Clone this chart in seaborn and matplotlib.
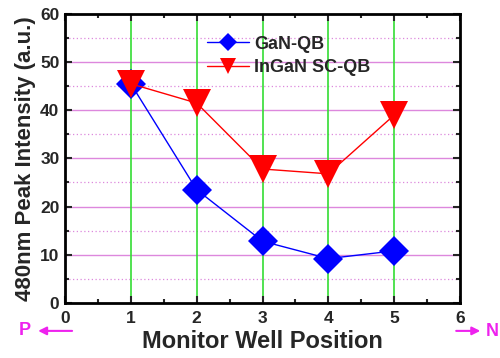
import matplotlib
matplotlib.use("Agg")
import matplotlib.pyplot as plt
import seaborn as sns
import pandas as pd
from matplotlib.ticker import MultipleLocator

positions = [1, 2, 3, 4, 5]
gan_qb = [45.5, 23.5, 12.8, 9.2, 10.8]
ingan_scqb = [45.5, 41.5, 27.8, 26.8, 39.0]
series_names = ["GaN-QB", "InGaN SC-QB"]

sns.set_theme(style="white")
plt.rcParams['font.family'] = ['Liberation Sans', 'DejaVu Sans']
plt.rcParams['font.weight'] = 'bold'

df = pd.DataFrame({
    "pos": positions * 2,
    "val": gan_qb + ingan_scqb,
    "series": [series_names[0]] * 5 + [series_names[1]] * 5,
})

fig = plt.figure(figsize=(5, 3.58), dpi=100)
ax = fig.add_axes([0.13, 0.154, 0.79, 0.807])

# grid
for y in range(10, 60, 10):
    ax.axhline(y, color="#dd88dd", lw=1.0, zorder=0)
for y in range(5, 60, 10):
    ax.axhline(y, color="#dd88dd", lw=0.9, ls=(0, (1, 2)), zorder=0)
for x in positions:
    ax.axvline(x, color="#33dd33", lw=1.2, zorder=0)

sns.lineplot(data=df, x="pos", y="val", hue="series", style="series",
             palette={series_names[0]: "#0000ff", series_names[1]: "#ff0000"},
             markers={series_names[0]: "D", series_names[1]: "v"},
             dashes=False, markersize=15, markeredgewidth=0, lw=1.0, ax=ax, zorder=3)
for line in ax.lines:
    if line.get_marker() == "v":
        line.set_markersize(20)

ax.set_xlim(0, 6)
ax.set_ylim(0, 60)
ax.xaxis.set_major_locator(MultipleLocator(1))
ax.xaxis.set_minor_locator(MultipleLocator(0.5))
ax.yaxis.set_major_locator(MultipleLocator(10))
ax.yaxis.set_minor_locator(MultipleLocator(5))
ax.tick_params(which="both", direction="in", top=True, right=True, bottom=True, left=True,
               width=1.5, labelsize=12.5)
ax.tick_params(axis="x", pad=6)
ax.tick_params(axis="y", pad=4)
ax.tick_params(which="major", length=5)
ax.tick_params(which="minor", length=3)
for lab in ax.get_xticklabels() + ax.get_yticklabels():
    lab.set_fontweight("bold")
for s in ax.spines.values():
    s.set_linewidth(2)
    s.set_color("black")

ax.set_xlabel("Monitor Well Position", fontsize=17, fontweight="bold")
ax.xaxis.set_label_coords(0.5, -0.095)
ax.set_ylabel("480nm Peak Intensity (a.u.)", fontsize=16, fontweight="bold", labelpad=3)

leg = ax.legend(loc="upper left", bbox_to_anchor=(0.36, 0.925), frameon=False,
                fontsize=13, handlelength=2.3, handletextpad=0.3, labelspacing=0.35,
                borderaxespad=0, borderpad=0)
for h in leg.legend_handles:
    if h.get_marker() == "v":
        h.set_markersize(11)
    else:
        h.set_markersize(9)
for t in leg.get_texts():
    t.set_fontweight("bold")

# P / N indicators
ax.annotate("", xy=(-0.45, -0.097), xytext=(0.15, -0.097), xycoords=("data", "axes fraction"),
            arrowprops=dict(arrowstyle="-|>", color="#ee22ee", lw=1.5, mutation_scale=12),
            annotation_clip=False)
ax.text(-0.52, -0.097, "P", color="#ee22ee", fontsize=13, fontweight="bold",
        ha="right", va="center", transform=ax.get_xaxis_transform())
ax.annotate("", xy=(6.35, -0.097), xytext=(5.9, -0.097), xycoords=("data", "axes fraction"),
            arrowprops=dict(arrowstyle="-|>", color="#ee22ee", lw=1.5, mutation_scale=12),
            annotation_clip=False)
fig.text(0.998, 1 - 331 / 358, "N", color="#ee22ee", fontsize=13, fontweight="bold",
         ha="right", va="center")

fig.savefig("out.png", dpi=100)
